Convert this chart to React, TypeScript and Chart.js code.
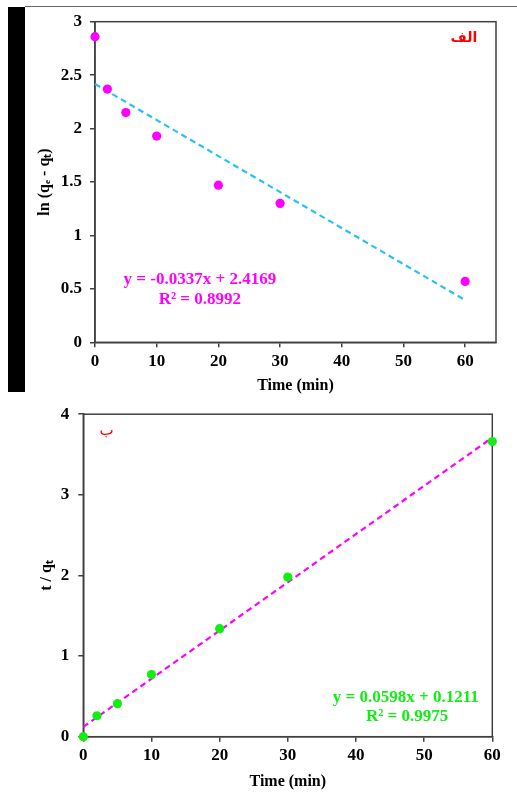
import React, { useEffect, useRef } from "react";
import { Chart, registerables } from "chart.js";

Chart.register(...registerables);

// ---- Data: chart (الف) pseudo-first-order ----
const timeA = [0, 2, 5, 10, 20, 30, 60];
const lnValuesA = [2.86, 2.37, 2.15, 1.93, 1.47, 1.3, 0.57];
const trendXA = [0, 60];
const trendYA = [2.4169, 0.3949];
const yTicksA = [0, 0.5, 1, 1.5, 2, 2.5, 3];
const xTicksA = [0, 10, 20, 30, 40, 50, 60];
const equationA = "y = -0.0337x + 2.4169";
const r2A = "R² = 0.8992";
const labelA = "الف";

// ---- Data: chart (ب) pseudo-second-order ----
const timeB = [0, 2, 5, 10, 20, 30, 60];
const tqValuesB = [0, 0.26, 0.41, 0.77, 1.34, 1.98, 3.66];
const trendXB = [0, 60];
const trendYB = [0.1211, 3.7091];
const yTicksB = [0, 1, 2, 3, 4];
const xTicksB = [0, 10, 20, 30, 40, 50, 60];
const equationB = "y = 0.0598x + 0.1211";
const r2B = "R² = 0.9975";
const labelB = "ب";

const SERIF = "'Times New Roman', 'Liberation Serif', serif";
const AXIS_COLOR = "#404040";

type Note = { text: string; x: number; y: number; font: string; color: string };

const notesPlugin = {
  id: "notes",
  beforeDatasetsDraw(chart: any) {
    const { ctx, chartArea } = chart;
    ctx.save();
    ctx.strokeStyle = AXIS_COLOR;
    ctx.lineWidth = 1.5;
    ctx.strokeRect(chartArea.left, chartArea.top, chartArea.right - chartArea.left, chartArea.bottom - chartArea.top);
    ctx.restore();
  },
  afterDatasetsDraw(chart: any, _args: any, opts: any) {
    const notes: Note[] = opts.notes || [];
    const { ctx, scales } = chart;
    ctx.save();
    ctx.textAlign = "center";
    ctx.textBaseline = "middle";
    for (const n of notes) {
      ctx.font = n.font;
      ctx.fillStyle = n.color;
      ctx.fillText(n.text, scales.x.getPixelForValue(n.x), scales.y.getPixelForValue(n.y));
    }
    ctx.restore();
  },
};

function makeConfig(p: {
  xs: number[];
  ys: number[];
  tx: number[];
  ty: number[];
  pointColor: string;
  lineColor: string;
  xMax: number;
  yMax: number;
  xTicks: number[];
  yTicks: number[];
  yTitle: string;
  yAxisWidth: number;
  yTitlePad: number;
  yTickPad: number;
  xAxisHeight: number;
  xTitlePad: number;
  padTop: number;
  padRight: number;
  notes: Note[];
}) {
  const tickFont = { family: SERIF, size: 17, weight: "bold" as const };
  return {
    type: "scatter" as const,
    data: {
      datasets: [
        {
          label: "data",
          data: p.xs.map((x, i) => ({ x, y: p.ys[i] })),
          backgroundColor: p.pointColor,
          borderColor: p.pointColor,
          pointRadius: 4.6,
          pointBorderWidth: 0,
          showLine: false,
          clip: false,
        },
        {
          label: "trend",
          type: "line" as const,
          data: p.tx.map((x, i) => ({ x, y: p.ty[i] })),
          borderColor: p.lineColor,
          borderWidth: 2.2,
          borderDash: [6, 4],
          pointRadius: 0,
          fill: false,
          clip: false,
        },
      ],
    },
    options: {
      animation: false as const,
      responsive: false,
      layout: { padding: { top: p.padTop, right: p.padRight, left: 0, bottom: 0 } },
      plugins: {
        legend: { display: false },
        tooltip: { enabled: false },
        notes: { notes: p.notes },
      },
      scales: {
        x: {
          type: "linear" as const,
          min: 0,
          max: p.xMax,
          afterBuildTicks: (s: any) => {
            s.ticks = p.xTicks.map((v) => ({ value: v }));
          },
          afterFit: (s: any) => {
            s.height = p.xAxisHeight;
          },
          grid: { drawOnChartArea: false, drawTicks: true, tickLength: 5, color: AXIS_COLOR, lineWidth: 1.5 },
          border: { display: true, color: AXIS_COLOR, width: 1.5 },
          ticks: { font: tickFont, color: "#000", padding: 4, maxRotation: 0, callback: (v: any) => String(v) },
          title: {
            display: true,
            text: "Time (min)",
            font: { family: SERIF, size: 16, weight: "bold" as const },
            color: "#000",
            padding: { top: 0, bottom: p.xTitlePad },
          },
        },
        y: {
          type: "linear" as const,
          min: 0,
          max: p.yMax,
          afterBuildTicks: (s: any) => {
            s.ticks = p.yTicks.map((v) => ({ value: v }));
          },
          afterFit: (s: any) => {
            s.width = p.yAxisWidth;
          },
          grid: { drawOnChartArea: false, drawTicks: true, tickLength: 5, color: AXIS_COLOR, lineWidth: 1.5 },
          border: { display: true, color: AXIS_COLOR, width: 1.5 },
          ticks: { font: tickFont, color: "#000", padding: p.yTickPad, callback: (v: any) => String(v) },
          title: {
            display: true,
            text: p.yTitle,
            font: { family: SERIF, size: 16, weight: "bold" as const },
            color: "#000",
            padding: { top: p.yTitlePad, bottom: 0 },
          },
        },
      },
    },
    plugins: [notesPlugin],
  };
}

function ChartCanvas(props: { config: any; left: number; top: number; width: number; height: number }) {
  const ref = useRef<HTMLCanvasElement | null>(null);
  useEffect(() => {
    if (!ref.current) return;
    const chart = new Chart(ref.current, props.config);
    return () => chart.destroy();
  }, []);
  return (
    <canvas
      ref={ref}
      width={props.width}
      height={props.height}
      style={{ position: "absolute", left: props.left, top: props.top, width: props.width, height: props.height }}
    />
  );
}

export default function App() {
  const configA = makeConfig({
    xs: timeA,
    ys: lnValuesA,
    tx: trendXA,
    ty: trendYA,
    pointColor: "#FF00FF",
    lineColor: "#26C3EE",
    xMax: 65,
    yMax: 3,
    xTicks: xTicksA,
    yTicks: yTicksA,
    yTitle: "ln (qₑ - qₜ)",
    yAxisWidth: 70,
    yTitlePad: 10.4,
    yTickPad: 8,
    xAxisHeight: 52.7,
    xTitlePad: 0,
    padTop: 21.7,
    padRight: 21,
    notes: [
      { text: equationA, x: 17, y: 0.583, font: `bold 17px ${SERIF}`, color: "#FF00FF" },
      { text: r2A, x: 17, y: 0.402, font: `bold 17px ${SERIF}`, color: "#FF00FF" },
      { text: labelA, x: 59.8, y: 2.84, font: "bold 14px 'DejaVu Sans', sans-serif", color: "#FF0000" },
    ],
  });
  const configB = makeConfig({
    xs: timeB,
    ys: tqValuesB,
    tx: trendXB,
    ty: trendYB,
    pointColor: "#11EE11",
    lineColor: "#FF00FF",
    xMax: 60,
    yMax: 4,
    xTicks: xTicksB,
    yTicks: yTicksB,
    yTitle: "t / qₜ",
    yAxisWidth: 83.3,
    yTitlePad: 37.4,
    yTickPad: 9,
    xAxisHeight: 55.3,
    xTitlePad: 0.4,
    padTop: 13.3,
    padRight: 24.7,
    notes: [
      { text: equationB, x: 47.3, y: 0.487, font: `bold 17px ${SERIF}`, color: "#11EE11" },
      { text: r2B, x: 47.5, y: 0.252, font: `bold 17px ${SERIF}`, color: "#11EE11" },
      { text: labelB, x: 3.4, y: 3.79, font: "15px 'DejaVu Sans', sans-serif", color: "#FF0000" },
    ],
  });
  return (
    <div style={{ position: "absolute", left: 0, top: 0, width: 517, height: 792, background: "#fff", overflow: "hidden" }}>
      <div style={{ position: "absolute", left: 8, top: 7, width: 17, height: 385, background: "#000" }} />
      <div style={{ position: "absolute", left: 25, top: 6, width: 492, height: 0, borderTop: "1px solid #666" }} />
      <ChartCanvas config={configA} left={25} top={0} width={492} height={395} />
      <ChartCanvas config={configB} left={0} top={395} width={517} height={397} />
    </div>
  );
}
